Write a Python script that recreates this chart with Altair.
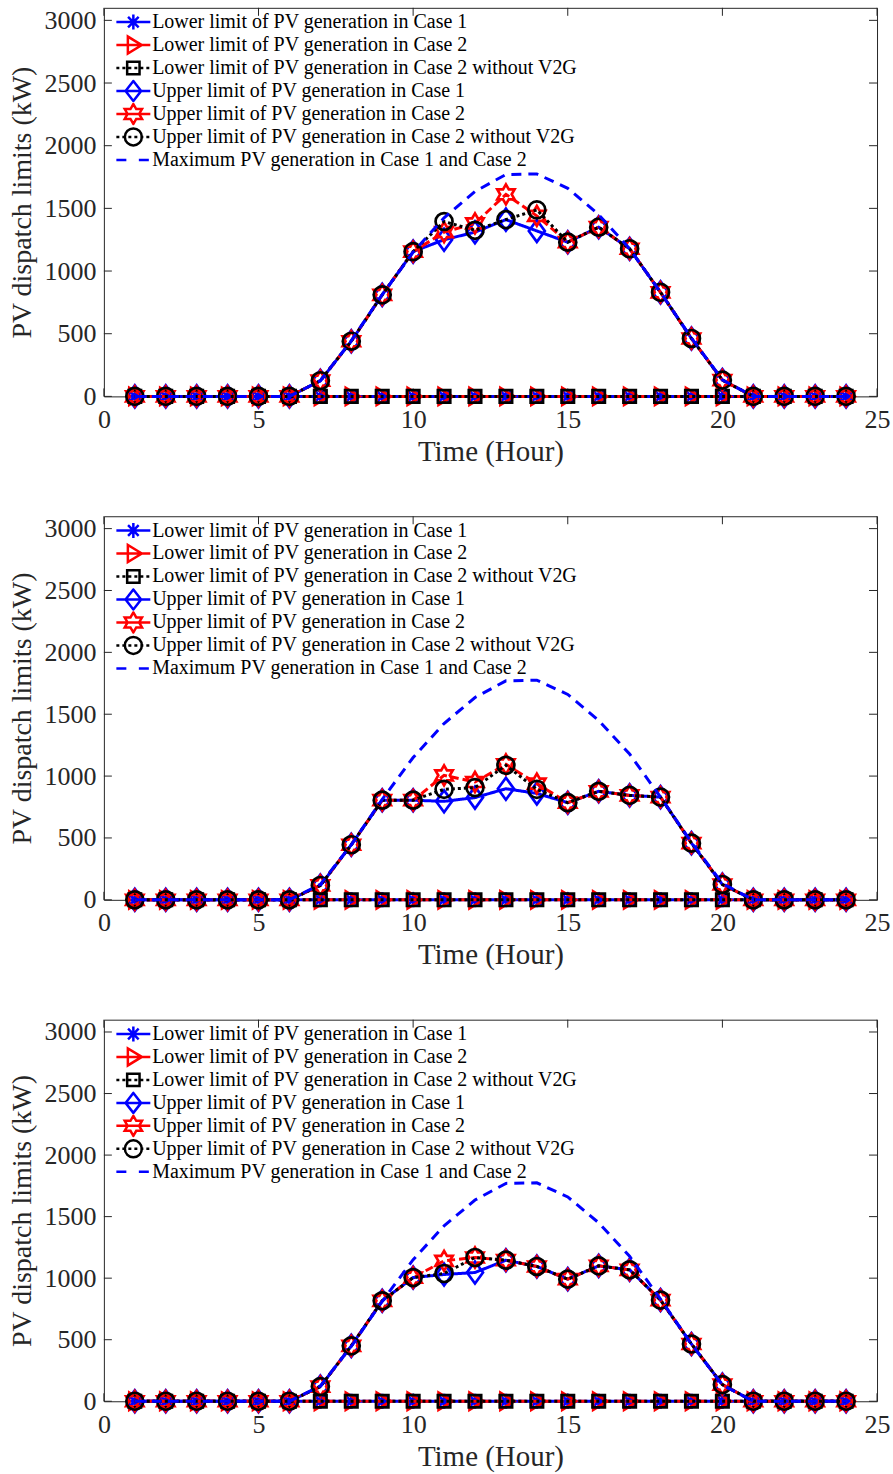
import altair as alt
import pandas as pd

hours = [1, 2, 3, 4, 5, 6, 7, 8, 9, 10, 11, 12, 13, 14, 15, 16, 17, 18, 19, 20, 21, 22, 23, 24]

series_names = [
    "Lower limit of PV generation in Case 1",
    "Lower limit of PV generation in Case 2",
    "Lower limit of PV generation in Case 2 without V2G",
    "Upper limit of PV generation in Case 1",
    "Upper limit of PV generation in Case 2",
    "Upper limit of PV generation in Case 2 without V2G",
    "Maximum PV generation in Case 1 and Case 2",
]

x_ticks = [0, 5, 10, 15, 20, 25]
y_ticks = [0, 500, 1000, 1500, 2000, 2500, 3000]

lower_zero = [0, 0, 0, 0, 0, 0, 0, 0, 0, 0, 0, 0, 0, 0, 0, 0, 0, 0, 0, 0, 0, 0, 0, 0]
max_pv = [0, 0, 0, 0, 0, 0, 125, 445, 812, 1150, 1425, 1635, 1770, 1775, 1660, 1450, 1178, 830, 465, 132, 0, 0, 0, 0]

# Panel 1
p1_up_c1 = [0, 0, 0, 0, 0, 0, 125, 440, 810, 1155, 1250, 1310, 1410, 1320, 1230, 1350, 1178, 830, 462, 130, 0, 0, 0, 0]
p1_up_c2 = [0, 0, 0, 0, 0, 0, 125, 440, 810, 1155, 1310, 1380, 1612, 1440, 1230, 1350, 1178, 830, 462, 130, 0, 0, 0, 0]
p1_up_nv = [0, 0, 0, 0, 0, 0, 125, 440, 810, 1155, 1395, 1325, 1410, 1488, 1230, 1350, 1178, 830, 462, 130, 0, 0, 0, 0]
# Panel 2
p2_up_c1 = [0, 0, 0, 0, 0, 0, 116, 445, 805, 805, 796, 826, 898, 860, 785, 877, 844, 830, 458, 124, 0, 0, 0, 0]
p2_up_c2 = [0, 0, 0, 0, 0, 0, 116, 445, 805, 805, 1006, 952, 1095, 939, 785, 877, 844, 830, 458, 124, 0, 0, 0, 0]
p2_up_nv = [0, 0, 0, 0, 0, 0, 116, 445, 805, 805, 893, 907, 1087, 893, 785, 877, 844, 830, 458, 124, 0, 0, 0, 0]
# Panel 3
p3_up_c1 = [0, 0, 0, 0, 0, 0, 119, 450, 816, 1005, 1030, 1046, 1146, 1095, 992, 1100, 1068, 822, 465, 135, 0, 0, 0, 0]
p3_up_c2 = [0, 0, 0, 0, 0, 0, 119, 450, 816, 1005, 1141, 1168, 1146, 1095, 992, 1100, 1068, 822, 465, 135, 0, 0, 0, 0]
p3_up_nv = [0, 0, 0, 0, 0, 0, 119, 450, 816, 1005, 1038, 1168, 1146, 1095, 992, 1100, 1068, 822, 465, 135, 0, 0, 0, 0]

BLUE = "#0000FF"
RED = "#FF0000"
BLACK = "#000000"
AX = "#262626"
FONT = "Liberation Serif"

# marker paths (unit coordinates, scaled by sqrt(size)/2)
ASTER = "M-0.75,0H0.75M0,-0.75V0.75M-0.53,-0.53L0.53,0.53M-0.53,0.53L0.53,-0.53"
TRI_R = "M0.85,0L-0.55,-0.85L-0.55,0.85Z"
SQUARE = "M-0.62,-0.62H0.62V0.62H-0.62Z"
DIAMOND = "M0,-1.1L0.8,0L0,1.1L-0.8,0Z"
HEXA = ("M0,-1L0.289,-0.5L0.866,-0.5L0.577,0L0.866,0.5L0.289,0.5L0,1L-0.289,0.5"
        "L-0.866,0.5L-0.577,0L-0.866,-0.5L-0.289,-0.5Z")
CIRCLE = "M0.85,0A0.85,0.85 0 1,1 -0.85,0A0.85,0.85 0 1,1 0.85,0Z"
LEG_DIAMOND = "M0,-1L0.78,0L0,1L-0.78,0Z"

# legend line samples; the leading moves give every symbol the same bounds
BOX = "M-1.7,-1M1.7,1"
SOLID_L = "M-1.7,0H1.7"
DOT_L = "M-1.7,0h0.3M-1.1,0h0.3M-0.5,0h0.3M0.1,0h0.3M0.7,0h0.3M1.3,0h0.3"
DASH_L = "M-1.7,0H-0.7M0.55,0H1.55"

styles = [
    (BLUE, [1, 0], ASTER, SOLID_L, ASTER),
    (RED, [8, 4], TRI_R, SOLID_L, TRI_R),
    (BLACK, [3, 3], SQUARE, DOT_L, SQUARE),
    (BLUE, [1, 0], DIAMOND, SOLID_L, LEG_DIAMOND),
    (RED, [8, 4], HEXA, SOLID_L, HEXA),
    (BLACK, [3, 3], CIRCLE, DOT_L, CIRCLE),
    (BLUE, [10, 7], None, DASH_L, ""),
]

legend_colors = [s[0] for s in styles]
legend_paths = [BOX + s[3] + s[4] for s in styles]

W = 774


def panel(up_c1, up_c2, up_nv, height):
    series_values = [lower_zero, lower_zero, lower_zero, up_c1, up_c2, up_nv, max_pv]
    rows = []
    for name, vals in zip(series_names, series_values):
        for h, v in zip(hours, vals):
            rows.append({"hour": h, "value": v, "series": name})
    df = pd.DataFrame(rows)

    xs = alt.X("hour:Q", scale=alt.Scale(domain=[0, 25], nice=False, zero=False),
               axis=alt.Axis(values=x_ticks, title="Time (Hour)", format="d"))
    ys = alt.Y("value:Q", scale=alt.Scale(domain=[0, 3100], nice=False),
               axis=alt.Axis(values=y_ticks, title="PV dispatch limits (kW)", format="d"))

    layers = []
    # inner tick marks on all four sides
    xt = pd.DataFrame({"hour": x_ticks})
    yt = pd.DataFrame({"value": y_ticks})
    layers.append(alt.Chart(xt).mark_rule(color=AX, strokeWidth=1).encode(
        x=xs, y=alt.value(height), y2=alt.value(height - 8)))
    layers.append(alt.Chart(xt).mark_rule(color=AX, strokeWidth=1).encode(
        x=xs, y=alt.value(0), y2=alt.value(8)))
    layers.append(alt.Chart(yt).mark_rule(color=AX, strokeWidth=1).encode(
        y=ys, x=alt.value(0), x2=alt.value(8)))
    layers.append(alt.Chart(yt).mark_rule(color=AX, strokeWidth=1).encode(
        y=ys, x=alt.value(W), x2=alt.value(W - 8)))

    for name, (col, dash, marker, _, _m) in zip(series_names, styles):
        base = alt.Chart(df).transform_filter(alt.datum.series == name)
        layers.append(base.mark_line(color=col, strokeWidth=3, strokeDash=dash,
                                     strokeCap="butt").encode(x=xs, y=ys))
        if marker:
            layers.append(base.mark_point(shape=marker, size=400, filled=False, color=col,
                                          strokeWidth=2.7, opacity=1).encode(x=xs, y=ys))

    leg = alt.Legend(title=None, orient="none", legendX=11, legendY=3, symbolSize=400,
                     symbolStrokeWidth=2.5, symbolOffset=7, labelFont=FONT, labelFontSize=20,
                     labelColor=BLACK, labelOffset=7.3, rowPadding=0, clipHeight=22.6,
                     padding=0, labelLimit=0, symbolFillColor="transparent")
    legend_layer = alt.Chart(df).transform_filter("datum.value < 0").mark_point(
        filled=False, strokeWidth=2.5, opacity=1, size=400).encode(
        color=alt.Color("series:N", scale=alt.Scale(domain=series_names, range=legend_colors), legend=leg),
        shape=alt.Shape("series:N", scale=alt.Scale(domain=series_names, range=legend_paths), legend=leg),
    )
    layers.append(legend_layer)
    return alt.layer(*layers).properties(width=W, height=height)


chart = alt.vconcat(
    panel(p1_up_c1, p1_up_c2, p1_up_nv, 389),
    panel(p2_up_c1, p2_up_c2, p2_up_nv, 384),
    panel(p3_up_c1, p3_up_c2, p3_up_nv, 382),
    spacing=47,
).resolve_scale(color="independent", shape="independent").resolve_legend(
    color="independent", shape="independent"
).properties(
    padding={"left": 8, "top": 6, "right": 2, "bottom": 2},
    background="white",
).configure_view(
    stroke=AX, strokeWidth=1
).configure_axis(
    grid=False, ticks=False, domain=False, labelFont=FONT, labelFontSize=26,
    labelColor=AX, titleFont=FONT, titleFontSize=28, titleFontWeight="normal",
    titleColor=AX, labelFlush=False, labelOverlap=False,
).configure_axisX(
    labelPadding=10, titlePadding=5, titleFontSize=29
).configure_axisY(
    labelPadding=8, titlePadding=7
)

chart.save("out.html", embed_options={"renderer": "svg", "actions": False})
